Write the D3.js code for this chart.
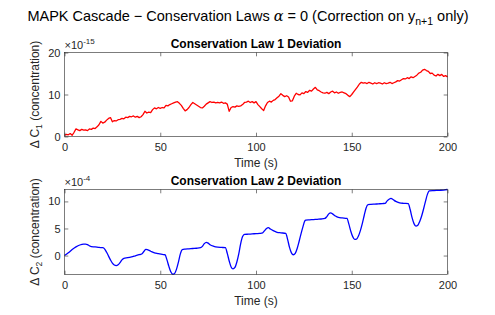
<!DOCTYPE html>
<html>
<head>
<meta charset="utf-8">
<script src="https://cdn.jsdelivr.net/npm/d3@7"></script>
<style>
  body { margin: 0; background: #fff; }
  text { font-family: "Liberation Sans", Arial, Helvetica, sans-serif; fill: #262626; }
</style>
</head>
<body>
<div id="chart"></div>
<script>
const W = 495, H = 315;

// tick values
const xTicks = [0, 50, 100, 150, 200];
const yTicks1 = [0, 10, 20];
const yTicks2 = [0, 5, 10];
const xLim = [0, 200];
const yLim1 = [0, 20];       // x1e-15
const yLim2 = [-3.5, 12.2];  // x1e-4

// Conservation law 1 deviation (x1e-15), one sample per second
const c1 = [
  0.3, 0.5, 0.4, 0.7, 0.3, 1.0, 1.8, 1.6, 1.4, 1.7,
  1.5, 1.6, 1.4, 1.8, 1.7, 2.0, 1.9, 2.3, 2.8, 3.6,
  3.2, 3.4, 3.9, 4.3, 4.5, 3.5, 3.8, 3.7, 4.0, 4.1,
  4.3, 4.2, 4.6, 4.5, 4.8, 4.7, 4.9, 4.6, 4.8, 4.5,
  4.7, 5.2, 6.0, 5.6, 5.8, 5.7, 6.4, 6.8, 6.6, 6.9,
  6.7, 6.9, 6.8, 7.4, 7.3, 7.6, 7.8, 8.0, 8.2, 8.3,
  7.9, 7.4, 6.7, 6.1, 6.4, 6.9, 7.6, 8.1, 7.8, 7.5,
  7.2, 6.9, 6.8, 7.2, 7.7, 8.0, 8.3, 8.1, 8.2, 8.0,
  8.1, 8.0, 8.2, 7.9, 8.0, 7.7, 6.0, 6.9, 7.1, 7.0,
  7.3, 7.2, 7.3, 7.6, 8.1, 8.2, 8.4, 8.1, 8.3, 8.0,
  8.3, 7.6, 7.1, 6.6, 6.2, 7.3, 8.1, 8.4, 8.2, 8.6,
  8.8, 9.2, 9.6, 10.2, 9.8, 9.5, 9.7, 9.4, 8.4, 8.5,
  9.6, 10.3, 10.0, 9.9, 10.4, 10.2, 10.7, 10.5, 11.0, 10.8,
  11.3, 11.7, 11.1, 10.9, 10.6, 10.4, 10.3, 10.5, 10.2, 10.6,
  10.8, 10.4, 10.6, 10.3, 10.5, 10.6, 10.4, 10.2, 9.8, 9.5,
  10.0, 10.6, 11.2, 11.8, 12.5, 12.9, 12.7, 12.8, 12.6, 12.9,
  12.7, 12.5, 12.8, 12.6, 12.8, 12.7, 12.5, 12.8, 12.6, 12.7,
  12.9, 12.6, 12.8, 13.0, 13.3, 13.2, 13.5, 13.8, 13.7, 14.0,
  13.8, 14.2, 14.0, 14.3, 14.6, 15.1, 15.3, 15.8, 16.0, 15.7,
  15.5, 15.0, 15.1, 14.6, 14.4, 14.8, 14.5, 14.8, 14.3, 14.5,
  14.2
];
const time1 = d3.range(0, c1.length);

// Conservation law 2 deviation (x1e-4)
const time2 = [
  0, 2, 4, 6, 8, 10, 11, 12, 13, 14, 16, 18, 20, 21, 22, 23, 24, 25, 26, 27,
  28, 29, 30, 31, 33, 35, 37, 39, 40.5, 41.5, 42.5, 43.5, 45, 47, 49, 51, 52.5, 53.5, 54.5, 55.5,
  56.5, 57.5, 58.5, 59.5, 60.5, 61.5, 63, 65, 67, 69, 71, 72, 73, 74, 75, 76, 78, 80, 82, 84,
  85, 86, 87, 88, 89, 90, 91, 92, 93, 94, 96, 98, 100, 102, 103.5, 104.5, 105.5, 106.5, 107.5, 109,
  111, 113, 115.5, 116.5, 117.5, 118.5, 119.5, 120.5, 121.5, 122.5, 123.5, 124.5, 125.5, 126, 128, 130, 132, 134, 136, 137,
  138, 139, 140, 141.5, 143, 145, 147.5, 148.5, 149.5, 150.5, 151.5, 152.5, 153.5, 154.5, 155.5, 156.5, 157.5, 158.5, 160, 162,
  164, 166, 167.5, 168.5, 169.5, 170.5, 171.5, 173, 175, 177, 179.5, 180.5, 181.5, 182.5, 183.5, 184.5, 185.5, 186.5, 187.5, 188.5,
  189.5, 190.5, 193, 196, 198, 200
];
const c2 = [
  0, 0.5, 1.1, 1.6, 1.95, 2.1, 2.1, 2.0, 1.8, 1.65, 1.6, 1.5, 1.45, 1.2, 0.6, -0.1, -0.8, -1.4, -1.75, -1.85,
  -1.7, -1.3, -0.8, -0.5, -0.4, -0.25, -0.05, 0.15, 0.35, 0.8, 1.15, 1.05, 0.8, 0.5, 0.35, 0.2, 0.15, -0.8, -2.0, -3.0,
  -3.45, -3.3, -2.5, -1.2, 0.3, 1.1, 1.2, 1.25, 1.3, 1.35, 1.45, 1.7, 2.2, 2.45, 2.3, 2.0, 1.7, 1.55, 1.5, 1.45,
  0.4, -1.0, -2.1, -2.45, -2.2, -1.2, 0.3, 2.2, 3.5, 3.9, 3.95, 4.0, 4.05, 4.1, 4.2, 4.6, 5.0, 5.15, 4.9, 4.6,
  4.3, 4.2, 4.1, 3.0, 1.5, 0.5, 0.15, 0.4, 1.3, 2.6, 4.0, 5.3, 6.4, 6.55, 6.6, 6.65, 6.7, 6.75, 6.85, 7.2,
  7.7, 7.9, 7.7, 7.3, 7.05, 6.95, 6.85, 5.8, 4.5, 3.5, 3.0, 3.05, 3.6, 4.6, 5.9, 7.4, 8.8, 9.4, 9.45, 9.5,
  9.55, 9.6, 9.65, 10.1, 10.4, 10.55, 10.35, 10.0, 9.75, 9.65, 9.6, 8.5, 7.0, 5.9, 5.45, 5.6, 6.3, 7.3, 8.6, 10.0,
  11.3, 11.95, 12.0, 12.05, 12.1, 12.2
];

const svg = d3.select("#chart").append("svg")
  .attr("width", W)
  .attr("height", H);

// figure title
const mainTitle = svg.append("text")
  .attr("x", 248)
  .attr("y", 20.5)
  .attr("text-anchor", "middle")
  .style("font-size", "14.5px")
  .style("fill", "#000");
mainTitle.append("tspan").text("MAPK Cascade \u2212 Conservation Laws ");
mainTitle.append("tspan").style("font-style", "italic").style("font-family", "DejaVu Serif, serif").text("\u03b1");
mainTitle.append("tspan").text(" = 0 (Correction on y");
mainTitle.append("tspan").attr("dy", 4).style("font-size", "10.5px").text("n+1");
mainTitle.append("tspan").attr("dy", -4).text(" only)");

function drawPanel(o) {
  const x = d3.scaleLinear().domain(xLim).range([64.5, 447.5]);
  const y = d3.scaleLinear().domain(o.yLim).range([o.bottom, o.top]);
  const g = svg.append("g");

  const line = d3.line()
    .x((d, i) => x(o.t[i]))
    .y(d => y(d))
    .curve(o.curve);

  g.append("path")
    .datum(o.v)
    .attr("fill", "none")
    .attr("stroke", o.color)
    .attr("stroke-width", 1.3)
    .attr("stroke-linejoin", "round")
    .attr("d", line);

  // bottom axis with labels, ticks pointing inward
  const xa = g.append("g")
    .attr("transform", `translate(0,${o.bottom})`)
    .call(d3.axisBottom(x).tickValues(xTicks).tickSizeInner(-3.8).tickSizeOuter(0).tickPadding(7));
  const ya = g.append("g")
    .attr("transform", `translate(64.5,0)`)
    .call(d3.axisLeft(y).tickValues(o.yTicks).tickSizeInner(-3.8).tickSizeOuter(0).tickPadding(4));
  // top and right ticks, no labels
  const xt = g.append("g")
    .attr("transform", `translate(0,${o.top})`)
    .call(d3.axisTop(x).tickValues(xTicks).tickSizeInner(-3.8).tickSizeOuter(0).tickFormat(""));
  const yr = g.append("g")
    .attr("transform", `translate(447.5,0)`)
    .call(d3.axisRight(y).tickValues(o.yTicks).tickSizeInner(-3.8).tickSizeOuter(0).tickFormat(""));

  [xa, ya, xt, yr].forEach(a => {
    a.select(".domain").remove();
    a.selectAll("line").attr("stroke", "#262626").attr("stroke-width", 0.6);
    a.selectAll("text")
      .style("font-family", "Liberation Sans, Arial, sans-serif")
      .style("font-size", "11px")
      .attr("fill", "#262626");
  });

  g.append("rect")
    .attr("x", 64.5)
    .attr("y", o.top)
    .attr("width", 383)
    .attr("height", o.bottom - o.top)
    .attr("fill", "none")
    .attr("stroke", "#262626")
    .attr("stroke-width", 0.6);

  // exponent
  const ex = g.append("text")
    .attr("x", 64.5)
    .attr("y", o.top - 3.5)
    .style("font-size", "11px");
  ex.append("tspan").text("\u00d710");
  ex.append("tspan").attr("dy", -5).style("font-size", "8px").text(o.exp);

  // title
  g.append("text")
    .attr("x", 256)
    .attr("y", o.top - 4.5)
    .attr("text-anchor", "middle")
    .style("font-size", "12px")
    .style("font-weight", "bold")
    .style("fill", "#000")
    .text(o.title);

  // x label
  g.append("text")
    .attr("x", 256)
    .attr("y", o.bottom + 30)
    .attr("text-anchor", "middle")
    .style("font-size", "12px")
    .text("Time (s)");

  // y label
  const yl = g.append("text")
    .attr("transform", `translate(38.5,${(o.top + o.bottom) / 2}) rotate(-90)`)
    .attr("text-anchor", "middle")
    .style("font-size", "12px");
  yl.append("tspan").text("\u0394 C");
  yl.append("tspan").attr("dy", 3.5).style("font-size", "8.5px").text(o.sub);
  yl.append("tspan").attr("dy", -3.5).text(" (concentration)");
}

drawPanel({
  t: time1, v: c1, color: "#ff0000", yLim: yLim1, yTicks: yTicks1,
  top: 52.5, bottom: 136.5, exp: "-15", sub: "1",
  title: "Conservation Law 1 Deviation", curve: d3.curveLinear
});
drawPanel({
  t: time2, v: c2, color: "#0000ff", yLim: yLim2, yTicks: yTicks2,
  top: 189.5, bottom: 274.5, exp: "-4", sub: "2",
  title: "Conservation Law 2 Deviation", curve: d3.curveMonotoneX
});
</script>
</body>
</html>
